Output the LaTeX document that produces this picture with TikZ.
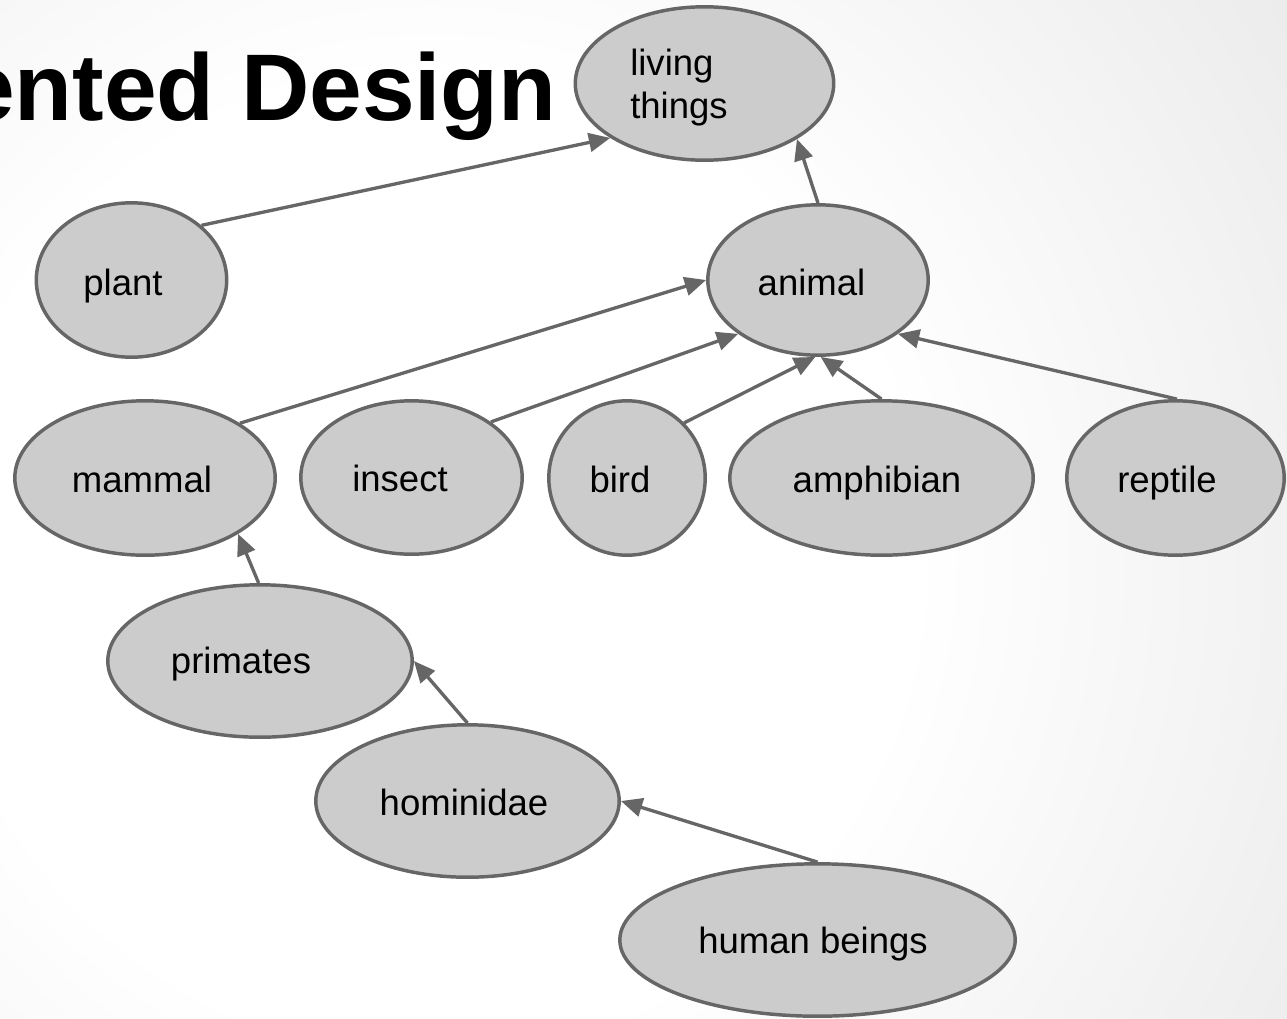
\documentclass[tikz,border=0pt]{standalone}
\usepackage{fontspec}
\setmainfont{Liberation Sans}
\usetikzlibrary{shapes.geometric,arrows.meta}

\definecolor{blobfill}{HTML}{CCCCCC}
\definecolor{blobline}{HTML}{666666}

% soft backdrop: white core fading to light grey
\pgfdeclareradialshading{backdrop}{\pgfpoint{0bp}{0bp}}{%
  color(0bp)=(white); color(11bp)=(white); color(50bp)=(black!24)}

\tikzset{
  blob/.style 2 args={ellipse, draw=blobline, fill=blobfill, line width=2.6pt,
    inner sep=0pt, minimum width=(#1-1.8)*1.5pt, minimum height=(#2-1.8)*1.5pt},
  word/.style={anchor=base, inner sep=0pt, font=\fontsize{27.4}{32.25}\selectfont},
  link/.style={draw=blobline, line width=2.5pt, -{Triangle[length=16pt,width=14pt]}},
}

\begin{document}
\begin{tikzpicture}[x=0.75pt,y=-0.75pt]
  \useasboundingbox (0,0) rectangle (1287,1018);
  \clip (0,0) rectangle (1287,1018);
  \shade[shading=backdrop] (430,560) circle[radius=1100];

  % heading, running off the left edge
  \node[anchor=base east, inner sep=0pt,
        font=\bfseries\fontsize{71}{80}\selectfont] (title) at (557,120) {ented Design};

  % class hierarchy
  \node[blob={131}{78.5}]   (living)    at (704.5,83.5) {};
  \node[blob={97}{79}]      (plant)     at (131.5,280)  {};
  \node[blob={112}{77}]     (animal)    at (818,280)    {};
  \node[blob={132}{79}]     (mammal)    at (145,478)    {};
  \node[blob={112.5}{78.5}] (insect)    at (411.5,477.5){};
  \node[blob={80}{79}]      (bird)      at (627,478)    {};
  \node[blob={153.5}{79}]   (amphibian) at (881.5,478)  {};
  \node[blob={110.5}{79}]   (reptile)   at (1175.5,478) {};
  \node[blob={154}{78}]     (primates)  at (260,661)    {};
  \node[blob={153.5}{78}]   (hominidae) at (467.5,801)  {};
  \node[blob={199.5}{78}]   (human)     at (817.5,940)  {};

  % labels
  \node[word, anchor=base west] (living-a) at (630,75)  {living};
  \node[word, anchor=base west] (living-b) at (630,118) {things};
  \node[word] (plant-t)     at (123,295)   {plant};
  \node[word] (animal-t)    at (811.5,295) {animal};
  \node[word] (mammal-t)    at (142,492)   {mammal};
  \node[word] (insect-t)    at (400,491)   {insect};
  \node[word] (bird-t)      at (620,492)   {bird};
  \node[word] (amphibian-t) at (877,492)   {amphibian};
  \node[word] (reptile-t)   at (1167,492)  {reptile};
  \node[word] (primates-t)  at (241,673)   {primates};
  \node[word] (hominidae-t) at (464,815)   {hominidae};
  \node[word] (human-t)     at (813,953)   {human beings};

  % is-a links
  \draw[link] (plant.38)      -- (living.210);
  \draw[link] (animal.90)     -- (living.329);
  \draw[link] (mammal.30)     -- (animal.180);
  \draw[link] (insect.35)     -- (animal.214);
  \draw[link] (bird.44)       -- (animal.268);
  \draw[link] (amphibian.90)  -- (animal.272);
  \draw[link] (reptile.89)    -- (animal.326);
  \draw[link] (primates.91)   -- (mammal.329);
  \draw[link] (hominidae.90)  -- (primates.0);
  \draw[link] (human.90)      -- (hominidae.0);
\end{tikzpicture}
\end{document}
